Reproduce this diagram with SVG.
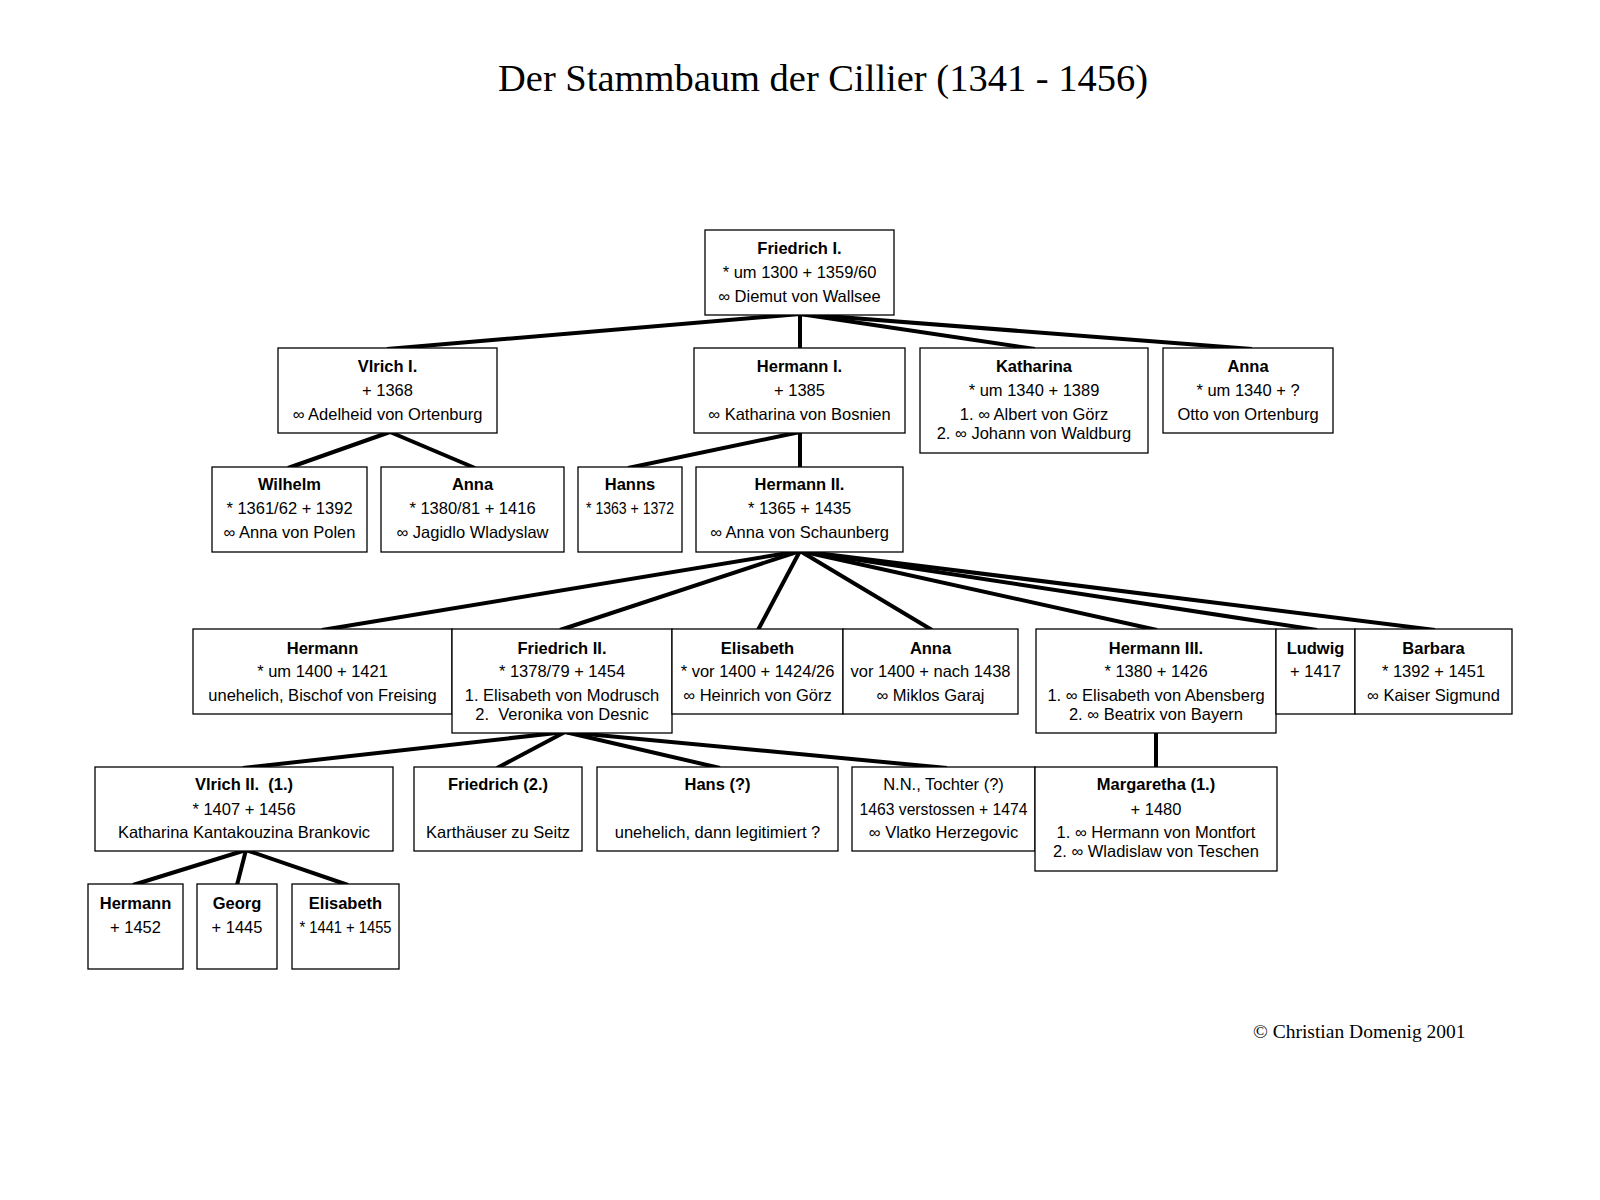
<svg xmlns="http://www.w3.org/2000/svg" width="1600" height="1200" viewBox="0 0 1600 1200">
<style>
.bg{fill:#fff}
.box{fill:#fff;stroke:#000;stroke-width:1.3}
.n{font-family:"Liberation Sans",Arial,sans-serif;font-weight:bold;font-size:16.5px;text-anchor:middle;fill:#000}
.t{font-family:"Liberation Sans",Arial,sans-serif;font-size:16.5px;text-anchor:middle;fill:#000}
.c line{stroke:#000;stroke-width:4;stroke-linecap:butt}
.title{font-family:"Liberation Serif","Times New Roman",serif;font-size:38px;fill:#000}
.copy{font-family:"Liberation Serif","Times New Roman",serif;font-size:19.5px;fill:#000}
</style>
<rect class="bg" x="0" y="0" width="1600" height="1200"/>
<text class="title" x="498" y="91" textLength="650" lengthAdjust="spacingAndGlyphs">Der Stammbaum der Cillier (1341 - 1456)</text>

<g id="connectors" class="c">
<line x1="800" y1="314" x2="387" y2="349"/>
<line x1="800" y1="314" x2="800" y2="349"/>
<line x1="800" y1="314" x2="1035" y2="349"/>
<line x1="800" y1="314" x2="1252" y2="349"/>
<line x1="390" y1="432" x2="288" y2="468"/>
<line x1="390" y1="432" x2="475" y2="468"/>
<line x1="800" y1="432" x2="628" y2="468"/>
<line x1="800" y1="432" x2="800" y2="468"/>
<line x1="800" y1="551" x2="322" y2="630"/>
<line x1="800" y1="551" x2="560" y2="630"/>
<line x1="800" y1="551" x2="758" y2="630"/>
<line x1="800" y1="551" x2="932" y2="630"/>
<line x1="800" y1="551" x2="1157" y2="630"/>
<line x1="800" y1="551" x2="1317" y2="630"/>
<line x1="800" y1="551" x2="1435" y2="630"/>
<line x1="565" y1="732" x2="243" y2="768"/>
<line x1="565" y1="732" x2="497" y2="768"/>
<line x1="565" y1="732" x2="720" y2="768"/>
<line x1="565" y1="732" x2="947" y2="768"/>
<line x1="1156" y1="732" x2="1156" y2="768"/>
<line x1="246" y1="850" x2="133" y2="885"/>
<line x1="246" y1="850" x2="237" y2="885"/>
<line x1="246" y1="850" x2="348" y2="885"/>
</g>

<g id="friedrich1"><rect class="box" x="705" y="230" width="189" height="85"/>
<text class="n" x="799.5" y="254">Friedrich I.</text>
<text class="t" x="799.5" y="278">* um 1300 + 1359/60</text>
<text class="t" x="799.5" y="302">∞ Diemut von Wallsee</text></g>

<g id="vlrich1"><rect class="box" x="278" y="348" width="219" height="85"/>
<text class="n" x="387.5" y="372">Vlrich I.</text>
<text class="t" x="387.5" y="396">+ 1368</text>
<text class="t" x="387.5" y="420">∞ Adelheid von Ortenburg</text></g>

<g id="hermann1"><rect class="box" x="694" y="348" width="211" height="85"/>
<text class="n" x="799.5" y="372">Hermann I.</text>
<text class="t" x="799.5" y="396">+ 1385</text>
<text class="t" x="799.5" y="420">∞ Katharina von Bosnien</text></g>

<g id="katharina"><rect class="box" x="920" y="348" width="228" height="105"/>
<text class="n" x="1034" y="372">Katharina</text>
<text class="t" x="1034" y="396">* um 1340 + 1389</text>
<text class="t" x="1034" y="420">1. ∞ Albert von Görz</text>
<text class="t" x="1034" y="439">2. ∞ Johann von Waldburg</text></g>

<g id="anna1"><rect class="box" x="1163" y="348" width="170" height="85"/>
<text class="n" x="1248" y="372">Anna</text>
<text class="t" x="1248" y="396">* um 1340 + ?</text>
<text class="t" x="1248" y="420">Otto von Ortenburg</text></g>

<g id="wilhelm"><rect class="box" x="212" y="467" width="155" height="85"/>
<text class="n" x="289.5" y="490">Wilhelm</text>
<text class="t" x="289.5" y="514">* 1361/62 + 1392</text>
<text class="t" x="289.5" y="538">∞ Anna von Polen</text></g>

<g id="anna2"><rect class="box" x="381" y="467" width="183" height="85"/>
<text class="n" x="472.5" y="490">Anna</text>
<text class="t" x="472.5" y="514">* 1380/81 + 1416</text>
<text class="t" x="472.5" y="538">∞ Jagidlo Wladyslaw</text></g>

<g id="hanns"><rect class="box" x="578" y="467" width="104" height="85"/>
<text class="n" x="630" y="490">Hanns</text>
<text class="t" x="630" y="514" textLength="88" lengthAdjust="spacingAndGlyphs">* 1363 + 1372</text></g>

<g id="hermann2"><rect class="box" x="696" y="467" width="207" height="85"/>
<text class="n" x="799.5" y="490">Hermann II.</text>
<text class="t" x="799.5" y="514">* 1365 + 1435</text>
<text class="t" x="799.5" y="538">∞ Anna von Schaunberg</text></g>

<g id="hermann_unehelich"><rect class="box" x="193" y="629" width="259" height="85"/>
<text class="n" x="322.5" y="654">Hermann</text>
<text class="t" x="322.5" y="677">* um 1400 + 1421</text>
<text class="t" x="322.5" y="701">unehelich, Bischof von Freising</text></g>

<g id="friedrich2"><rect class="box" x="452" y="629" width="220" height="104"/>
<text class="n" x="562" y="654">Friedrich II.</text>
<text class="t" x="562" y="677">* 1378/79 + 1454</text>
<text class="t" x="562" y="701">1. Elisabeth von Modrusch</text>
<text class="t" x="562" y="720">2.&#160; Veronika von Desnic</text></g>

<g id="elisabeth1"><rect class="box" x="672" y="629" width="171" height="85"/>
<text class="n" x="757.5" y="654">Elisabeth</text>
<text class="t" x="757.5" y="677">* vor 1400 + 1424/26</text>
<text class="t" x="757.5" y="701">∞ Heinrich von Görz</text></g>

<g id="anna3"><rect class="box" x="843" y="629" width="175" height="85"/>
<text class="n" x="930.5" y="654">Anna</text>
<text class="t" x="930.5" y="677">vor 1400 + nach 1438</text>
<text class="t" x="930.5" y="701">∞ Miklos Garaj</text></g>

<g id="hermann3"><rect class="box" x="1036" y="629" width="240" height="104"/>
<text class="n" x="1156" y="654">Hermann III.</text>
<text class="t" x="1156" y="677">* 1380 + 1426</text>
<text class="t" x="1156" y="701">1. ∞ Elisabeth von Abensberg</text>
<text class="t" x="1156" y="720">2. ∞ Beatrix von Bayern</text></g>

<g id="ludwig"><rect class="box" x="1276" y="629" width="79" height="85"/>
<text class="n" x="1315.5" y="654">Ludwig</text>
<text class="t" x="1315.5" y="677">+ 1417</text></g>

<g id="barbara"><rect class="box" x="1355" y="629" width="157" height="85"/>
<text class="n" x="1433.5" y="654">Barbara</text>
<text class="t" x="1433.5" y="677">* 1392 + 1451</text>
<text class="t" x="1433.5" y="701">∞ Kaiser Sigmund</text></g>

<g id="vlrich2"><rect class="box" x="95" y="767" width="298" height="84"/>
<text class="n" x="244" y="790">Vlrich II.&#160; (1.)</text>
<text class="t" x="244" y="815">* 1407 + 1456</text>
<text class="t" x="244" y="838">Katharina Kantakouzina Brankovic</text></g>

<g id="friedrich_karthaeuser"><rect class="box" x="414" y="767" width="168" height="84"/>
<text class="n" x="498" y="790">Friedrich (2.)</text>
<text class="t" x="498" y="838">Karthäuser zu Seitz</text></g>

<g id="hans"><rect class="box" x="597" y="767" width="241" height="84"/>
<text class="n" x="717.5" y="790">Hans (?)</text>
<text class="t" x="717.5" y="838">unehelich, dann legitimiert ?</text></g>

<g id="nn_tochter"><rect class="box" x="852" y="767" width="183" height="84"/>
<text class="t" x="943.5" y="790">N.N., Tochter (?)</text>
<text class="t" x="943.5" y="815" textLength="168" lengthAdjust="spacingAndGlyphs">1463 verstossen + 1474</text>
<text class="t" x="943.5" y="838">∞ Vlatko Herzegovic</text></g>

<g id="margaretha"><rect class="box" x="1035" y="767" width="242" height="104"/>
<text class="n" x="1156" y="790">Margaretha (1.)</text>
<text class="t" x="1156" y="815">+ 1480</text>
<text class="t" x="1156" y="838">1. ∞ Hermann von Montfort</text>
<text class="t" x="1156" y="857">2. ∞ Wladislaw von Teschen</text></g>

<g id="hermann4"><rect class="box" x="88" y="884" width="95" height="85"/>
<text class="n" x="135.5" y="909">Hermann</text>
<text class="t" x="135.5" y="933">+ 1452</text></g>

<g id="georg"><rect class="box" x="197" y="884" width="80" height="85"/>
<text class="n" x="237" y="909">Georg</text>
<text class="t" x="237" y="933">+ 1445</text></g>

<g id="elisabeth2"><rect class="box" x="292" y="884" width="107" height="85"/>
<text class="n" x="345.5" y="909">Elisabeth</text>
<text class="t" x="345.5" y="933" textLength="92" lengthAdjust="spacingAndGlyphs">* 1441 + 1455</text></g>

<text class="copy" x="1253" y="1038">© Christian Domenig 2001</text>
</svg>
